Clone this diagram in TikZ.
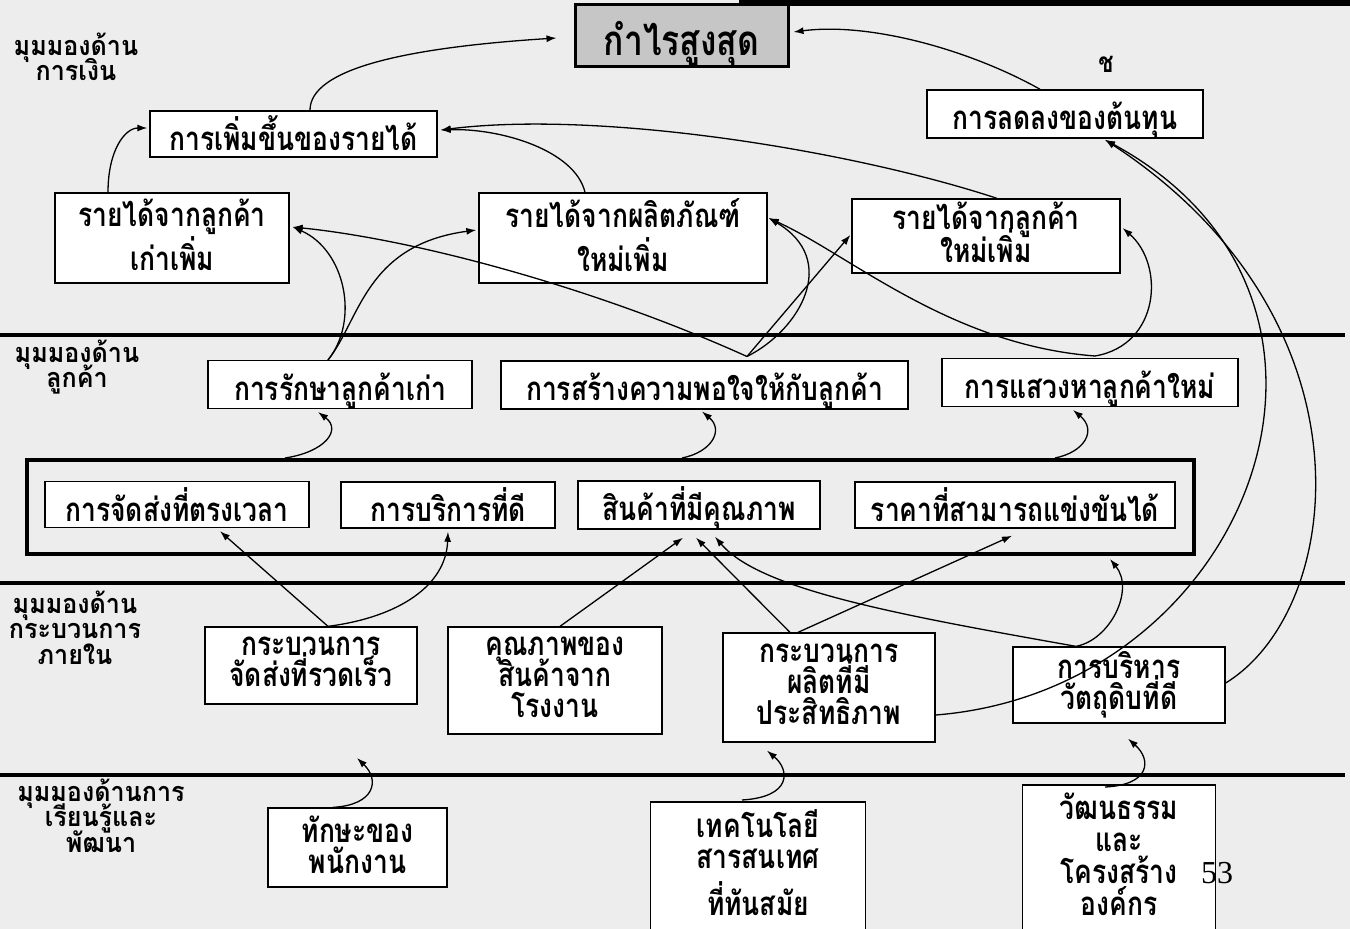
\documentclass[tikz,border=0pt]{standalone}
\usepackage{fontspec}
\setmainfont{Loma}[Script=Thai, FakeStretch=0.8]
\newfontfamily\lanefont{Loma}[Script=Thai, FakeStretch=0.93]
\newfontfamily\pagenumfont{Liberation Serif}
\usetikzlibrary{arrows.meta}
% uniform strut so that boxed Thai lines centre the same way
\newcommand\tstrut{\rule[-0.2em]{0pt}{1.4em}}
\begin{document}
\lineskiplimit=-100pt
\lineskip=0pt
\begin{tikzpicture}[x=1pt,y=-1pt,
  box/.style={draw, line width=1.3pt, fill=white, inner sep=0pt, align=center,
    font=\bfseries\fontsize{33}{31}\selectfont,
    execute at begin node=\tstrut, execute at end node=\tstrut},
  boxtext/.style={box, draw=none, fill=none},
  lanetext/.style={inner sep=0pt, align=center, font=\lanefont\bfseries\fontsize{27}{25.5}\selectfont,
    execute at begin node=\tstrut, execute at end node=\tstrut},
  laneline/.style={line width=3.5pt},
  link/.style={line width=1.3pt, -{Latex[length=10pt,width=7pt]}},
]
\useasboundingbox (0,0) rectangle (1350,929);
\clip (0,0) rectangle (1350,929);
\fill[gray!14] (0,0) rectangle (1350,929);
\fill (739,0) rectangle (1350,6);

% lane separators
\draw[laneline] (0,335) -- (1345,335);
\draw[laneline] (0,583) -- (1345,583);
\draw[laneline] (0,775) -- (1345,775);

% lane titles
\node[lanetext] (lfin) at (76,59.5) {มุมมองด้าน\\การเงิน};
\node[lanetext] (lcust) at (77,367) {มุมมองด้าน\\ลูกค้า};
\node[lanetext] (lproc) at (75,630) {มุมมองด้าน\\กระบวนการ\\ภายใน};
\node[lanetext] (llearn) at (101,818) {มุมมองด้านการ\\เรียนรู้และ\\พัฒนา};

% financial perspective
\node[box, fill=gray!45, line width=3pt, minimum width=213pt, minimum height=57pt,
  font=\bfseries\fontsize{42}{42}\selectfont] (profit) at (681.5,35.5) {กำไรสูงสุด};
\node[box, minimum width=287pt, minimum height=44pt] (revinc) at (293.5,134) {การเพิ่มขึ้นของรายได้};
\node[box, minimum width=276pt, minimum height=46pt] (costdown) at (1065,114) {การลดลงของต้นทุน};
\node[inner sep=0pt, font=\bfseries\fontsize{28}{28}\selectfont] (mark) at (1106,64) {ช};
\node[box, minimum width=234pt, minimum height=90pt] (oldrev) at (172,238) {รายได้จากลูกค้า\\[13pt]เก่าเพิ่ม};
\node[box, minimum width=288pt, minimum height=90pt] (newprod) at (623,238) {รายได้จากผลิตภัณฑ์\\[13pt]ใหม่เพิ่ม};
\node[box, minimum width=268pt, minimum height=74pt] (newcust) at (986,236) {รายได้จากลูกค้า\\[2pt]ใหม่เพิ่ม};

% customer perspective
\node[box, minimum width=264pt, minimum height=45pt] (retain) at (340,384.5) {การรักษาลูกค้าเก่า};
\node[box, minimum width=407pt, minimum height=46pt] (satisfy) at (704.5,385) {การสร้างความพอใจให้กับลูกค้า};
\node[box, minimum width=296pt, minimum height=45pt] (seek) at (1090,382.5) {การแสวงหาลูกค้าใหม่};

% customer value group
\node[draw, line width=4pt, minimum width=1167pt, minimum height=94pt] (core) at (610.5,507) {};
\node[box, minimum width=264pt, minimum height=45pt] (ontime) at (177,504.5) {การจัดส่งที่ตรงเวลา};
\node[box, minimum width=214pt, minimum height=46pt] (service) at (448,505) {การบริการที่ดี};
\node[box, minimum width=242pt, minimum height=46pt] (quality) at (699,505) {สินค้าที่มีคุณภาพ};
\node[box, minimum width=320pt, minimum height=46pt] (price) at (1015,505) {ราคาที่สามารถแข่งขันได้};

% internal process perspective
\node[box, minimum width=212pt, minimum height=77pt] (fastdeliv) at (311,665.5) {กระบวนการ\\จัดส่งที่รวดเร็ว};
\node[box, minimum width=214pt, minimum height=107pt] (factq) at (555,680.5) {คุณภาพของ\\สินค้าจาก\\โรงงาน};
\node[box, minimum width=212pt, minimum height=109pt] (prodproc) at (829,687.5) {กระบวนการ\\ผลิตที่มี\\ประสิทธิภาพ};
\node[box, minimum width=212pt, minimum height=76pt] (mgmt) at (1119,685) {การบริหาร\\วัตถุดิบที่ดี};

% learning and growth perspective
\node[box, minimum width=179pt, minimum height=79pt] (skills) at (357.5,847.5) {ทักษะของ\\พนักงาน};
\node[minimum width=214pt, minimum height=160pt, anchor=north, inner sep=0pt] (techbox) at (758,802) {};
\fill[white] (techbox.south west) rectangle (techbox.north east);
\draw[line width=1.3pt] (techbox.south west) -- (techbox.north west) -- (techbox.north east) -- (techbox.south east);
\node[boxtext] (techtxt) at (758,865.5) {เทคโนโลยี\\สารสนเทศ\\[16pt]ที่ทันสมัย};
\node[minimum width=192pt, minimum height=160pt, anchor=north, inner sep=0pt] (culbox) at (1119,785) {};
\fill[white] (culbox.south west) rectangle (culbox.north east);
\draw[line width=1.3pt] (culbox.south west) -- (culbox.north west) -- (culbox.north east) -- (culbox.south east);
\node[boxtext, font=\bfseries\fontsize{33}{32}\selectfont] (cultxt) at (1119,857) {วัฒนธรรม\\และ\\โครงสร้าง\\องค์กร};
\node[inner sep=0pt, font=\pagenumfont\fontsize{32}{32}\selectfont] (pageno) at (1217,873) {53};
\coordinate (skilltip) at (357,758);

% financial links
\draw[link] ([xshift=16.5pt]revinc.north) .. controls (310,70) and (400,48) .. ([xshift=-17pt,yshift=-2.5pt]profit.west);
\draw[link] ([xshift=-25pt]costdown.north) .. controls (970,50) and (870,22) .. ([xshift=4pt,yshift=3.5pt]profit.east);
\draw[link] ([xshift=-64pt]oldrev.north) .. controls (108,150) and (125,128) .. ([xshift=-2pt,yshift=6pt]revinc.west);
\draw[link] ([xshift=11pt]newcust.north) .. controls (850,150) and (600,110) .. ([xshift=3pt,yshift=4pt]revinc.east);
\draw[link] ([xshift=-38pt]newprod.north) .. controls (575,150) and (500,128) .. ([xshift=3pt,yshift=4pt]revinc.east);

% customer to financial
\draw[link] ([xshift=-12pt]retain.north) .. controls (360,320) and (345,250) .. ([xshift=3pt,yshift=11pt]oldrev.east);
\draw[link] ([xshift=-12pt]retain.north) .. controls (360,320) and (365,245) .. ([xshift=-2pt,yshift=8pt]newprod.west);
\draw[link] ([xshift=42.5pt,yshift=4pt]satisfy.north) .. controls (600,290) and (420,240) .. ([xshift=3pt,yshift=11pt]oldrev.east);
\draw[link] ([xshift=42.5pt,yshift=4pt]satisfy.north) .. controls (800,330) and (840,260) .. ([xshift=1pt,yshift=20pt]newprod.east);
\draw[link] ([xshift=42.5pt,yshift=4pt]satisfy.north) -- ([xshift=-1pt,yshift=1pt]newcust.west);
\draw[link] ([xshift=5pt,yshift=2pt]seek.north) .. controls (1160,345) and (1165,265) .. ([xshift=2pt,yshift=8pt]newcust.east);
\draw[link] ([xshift=5pt,yshift=2pt]seek.north) .. controls (950,345) and (850,255) .. ([xshift=1pt,yshift=20pt]newprod.east);

% cost links
\draw[link] ([yshift=2pt]mgmt.east) .. controls (1345,610) and (1380,320) .. ([xshift=40pt,yshift=-1pt]costdown.south);
\draw[link] ([yshift=-27.5pt]prodproc.east) .. controls (1250,690) and (1400,300) .. ([xshift=40pt,yshift=-1pt]costdown.south);

% value group to customer
\draw[link] ([xshift=-325.5pt]core.north) .. controls (325,452) and (342,430) .. ([xshift=-22pt,yshift=-3pt]retain.south);
\draw[link] ([xshift=71.5pt]core.north) .. controls (712,452) and (724,430) .. ([xshift=-2.5pt,yshift=-2pt]satisfy.south);
\draw[link] ([xshift=444.5pt]core.north) .. controls (1085,452) and (1097,430) .. ([xshift=-17pt,yshift=-3pt]seek.south);

% internal process to value group
\draw[link] ([xshift=17pt]fastdeliv.north) -- ([xshift=43pt,yshift=-3pt]ontime.south);
\draw[link] ([xshift=17pt]fastdeliv.north) .. controls (400,617) and (446,585) .. ([yshift=-3pt]service.south);
\draw[link] ([xshift=5pt]factq.north) -- ([xshift=-16pt,yshift=-8pt]quality.south);
\draw[link] ([xshift=-39pt]prodproc.north) -- ([xshift=-3pt,yshift=-8pt]quality.south);
\draw[link] ([xshift=-31pt]prodproc.north) -- ([xshift=-3pt,yshift=-7pt]price.south);
\draw[link] ([xshift=-43pt]mgmt.north) .. controls (900,615) and (760,590) .. ([xshift=16pt,yshift=-7pt]quality.south);
\draw[link] ([xshift=-43pt]mgmt.north) .. controls (1110,640) and (1135,590) .. ([xshift=499.5pt,yshift=-3pt]core.south);

% learning to internal process
\draw[link] ([xshift=-16pt,yshift=2pt]techbox.north) .. controls (792,797) and (790,770) .. ([xshift=-62pt,yshift=-8pt]prodproc.south);
\draw[link] ([xshift=-14pt,yshift=-2pt]culbox.north) .. controls (1150,785) and (1152,760) .. ([xshift=9pt,yshift=-15pt]mgmt.south);
\draw[link] ([xshift=-24.5pt]skills.north) .. controls (375,805) and (380,780) .. (skilltip);
\end{tikzpicture}
\end{document}
